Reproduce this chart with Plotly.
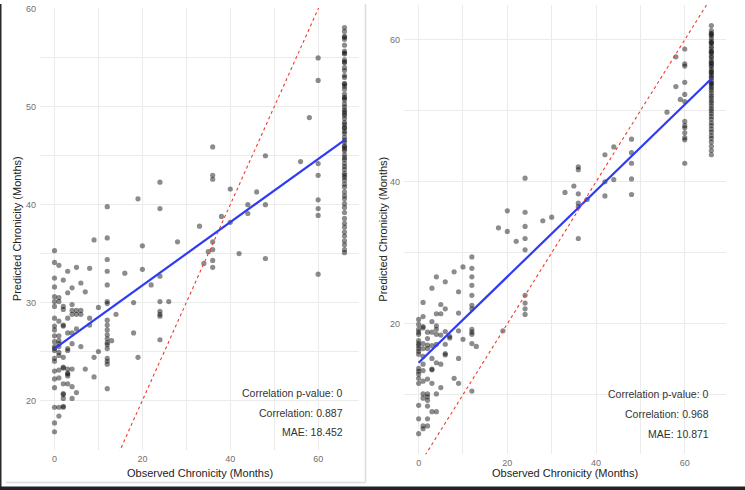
import plotly.graph_objects as go

# ---------------- data ----------------
# Left panel: observed vs predicted chronicity (months)
left_cols = {
    0: [35.3, 34.1, 32.5, 31.6, 30.6, 30.1, 29.6, 28.4, 27.6, 27.2, 26.6, 26.0, 25.5, 25.3, 25.1, 24.3, 24.0, 23.0, 22.2, 21.3, 19.3, 17.7, 16.8],
    1: [33.8, 30.5, 30.1, 28.1, 26.6, 26.1, 25.8, 25.5, 24.9, 24.6, 23.1, 22.3, 19.3, 18.4],
    2: [32.3, 29.6, 29.3, 27.7, 27.6, 24.4, 23.4, 23.3, 21.7, 20.7, 20.6, 20.2, 19.4, 19.3],
    3: [33.2, 31.0, 28.4, 26.9, 25.3, 25.1, 23.2, 22.8, 22.7, 22.5, 21.7],
    4: [31.5, 29.8, 29.2, 28.8, 26.9, 25.8, 23.2, 21.4, 20.2],
    5: [33.6, 29.2, 28.8, 27.3, 20.8],
    6: [32.0, 29.2, 28.8, 25.5],
    7: [31.1, 23.2],
    8: [33.5, 28.4, 27.7],
    9: [36.4, 24.4, 22.4],
    10: [29.5, 25.0],
    12: [39.8, 36.6, 34.4, 33.2, 31.8, 30.1, 29.9, 28.2, 27.7, 27.2, 26.7, 26.3, 25.9, 25.7, 25.3, 24.3, 24.0, 23.7, 21.2],
    13: [26.1],
    14: [28.8],
    16: [33.0],
    18: [30.0, 26.9],
    19: [40.6, 24.4],
    20: [35.8, 33.4],
    22: [31.8],
    24: [42.3, 39.6, 32.7, 30.1, 29.1, 28.8, 28.6, 26.2],
    26: [30.1],
    28: [36.2],
    33: [37.8],
    34: [34.0],
    35: [35.2],
    36: [45.9, 43.0, 42.6, 36.2, 35.4, 34.3, 33.6],
    38: [38.8],
    40: [41.6, 38.2],
    42: [35.0],
    44: [40.0, 39.1],
    46: [41.3],
    48: [45.0, 40.0, 34.5],
    56: [44.4],
    58: [48.9],
    60: [55.0, 52.7, 44.2, 43.0, 40.5, 39.6, 38.9, 32.9],
    66: [58.1, 57.7, 57.2, 57.1, 56.9, 56.3, 55.7, 55.5, 55.4, 54.8, 54.6, 54.5, 54.0, 53.7, 53.2, 53.0, 52.4, 52.3,
         52.1, 51.8, 51.3, 51.0, 50.9, 50.7, 50.3, 50.0, 49.7, 49.5, 49.3, 49.1, 48.8, 48.4, 48.2, 47.9, 47.8, 47.5,
         47.3, 46.9, 46.6, 46.4, 46.0, 45.9, 45.7, 45.5, 45.1, 44.8, 44.6, 44.2, 43.9, 43.6, 43.2, 43.0, 42.8, 42.5,
         42.1, 41.8, 41.3, 40.9, 40.6, 40.1, 39.7, 39.2, 38.6, 38.1, 37.7, 37.2, 36.8, 36.3, 35.9, 35.4, 35.1],
}
# Right panel
right_cols = {
    0: [20.6, 19.9, 19.2, 18.8, 18.5, 17.6, 17.2, 16.9, 16.5, 16.1, 15.7, 13.7, 13.3, 12.9, 12.3, 11.6, 8.5, 6.6, 4.5],
    1: [23.0, 21.0, 19.6, 19.4, 17.2, 16.5, 15.4, 14.3, 13.4, 11.9, 10.1, 9.5, 5.6, 5.2],
    2: [18.8, 17.9, 17.0, 16.5, 12.2, 10.1, 9.7, 9.2, 8.4, 6.6, 5.6],
    3: [25.0, 20.3, 18.8, 16.9, 15.1, 13.6, 13.5, 11.6, 7.6],
    4: [26.6, 21.4, 19.7, 19.2, 18.5, 17.1, 14.5, 10.1, 7.6],
    5: [22.7, 21.4, 18.4, 14.3, 11.0],
    6: [25.9, 22.1, 18.9, 17.1, 15.8, 15.6],
    7: [18.2, 18.0],
    8: [27.3, 12.3],
    9: [24.5, 21.5, 19.0, 15.1, 11.6],
    10: [28.0, 17.8],
    12: [29.4, 27.8, 26.6, 25.4, 24.0, 22.6, 22.1, 19.2, 18.8, 18.5, 17.2, 10.5],
    13: [16.8],
    18: [33.5],
    19: [19.0],
    20: [35.9, 33.0],
    22: [31.6],
    24: [40.5, 35.7, 33.7, 32.0, 30.4, 24.0, 22.9, 22.1, 21.3],
    28: [34.5],
    30: [35.0],
    33: [38.5],
    35: [39.4],
    36: [42.1, 41.7, 38.3, 37.0, 36.5, 32.0],
    38: [37.5],
    42: [43.8, 40.0, 38.0],
    44: [44.9, 40.3],
    48: [46.0, 44.1, 42.6, 40.4, 38.2],
    56: [49.8],
    58: [57.6, 53.4],
    59: [51.6],
    60: [58.7, 56.6, 56.3, 54.0, 52.3, 51.3, 48.5, 47.9, 47.6, 46.9, 46.2, 45.9, 42.6],
    66: [62.0, 61.3, 60.9, 60.8, 60.6, 60.2, 59.8, 59.6, 59.5, 59.1, 58.8, 58.4, 58.3, 58.1, 57.7, 57.5, 57.1, 56.8,
         56.7, 56.4, 56.2, 55.8, 55.5, 55.4, 55.1, 54.8, 54.6, 54.2, 53.9, 53.8, 53.5, 53.2, 52.9, 52.5, 52.1, 51.8,
         51.4, 51.1, 50.7, 50.3, 50.0, 49.6, 49.2, 48.8, 48.3, 47.9, 47.4, 47.0, 46.5, 46.1, 45.6, 45.0, 44.4, 43.8],
}

left_fit_x = [0, 66]
left_fit_y = [25.3, 46.6]
right_fit_x = [0, 66]
right_fit_y = [14.5, 54.5]
identity = [-10, 80]

left_stats = ["Correlation p-value: 0", "Correlation: 0.887", "MAE: 18.452"]
right_stats = ["Correlation p-value: 0", "Correlation: 0.968", "MAE: 10.871"]
x_title = "Observed Chronicity (Months)"
y_title = "Predicted Chronicity (Months)"


def flatten(cols):
    xs, ys = [], []
    for k, vals in cols.items():
        for v in vals:
            xs.append(k)
            ys.append(v)
    return xs, ys


lx, ly = flatten(left_cols)
rx, ry = flatten(right_cols)

W, H = 745, 490
FONT = "Liberation Sans, Arial, Helvetica, sans-serif"
GRID = "#ebebeb"
TICK = "#707070"

fig = go.Figure()
marker = dict(size=5.2, color="rgba(0,0,0,0.45)", line=dict(width=0))

for xs, ys, fx, fy, xa, ya in [(lx, ly, left_fit_x, left_fit_y, "x", "y"),
                               (rx, ry, right_fit_x, right_fit_y, "x2", "y2")]:
    fig.add_trace(go.Scatter(x=xs, y=ys, mode="markers", marker=marker,
                             xaxis=xa, yaxis=ya, showlegend=False, hoverinfo="skip"))
    fig.add_trace(go.Scatter(x=fx, y=fy, mode="lines", line=dict(color="#2D3BF5", width=2.2),
                             xaxis=xa, yaxis=ya, showlegend=False, hoverinfo="skip"))
    fig.add_trace(go.Scatter(x=identity, y=identity, mode="lines",
                             line=dict(color="#F23A2E", width=1.1, dash="3px,3px"),
                             xaxis=xa, yaxis=ya, showlegend=False, hoverinfo="skip"))


def px_x(p):
    return p / W


def px_y(p):
    return 1 - p / H


def xaxis(dom):
    return dict(domain=dom, range=[-3.3, 69.3], dtick=20, tick0=0, showgrid=True, gridcolor=GRID,
                gridwidth=1, zeroline=False, showline=False, ticks="",
                tickfont=dict(size=9, color=TICK, family=FONT), ticklabelstandoff=2,
                ticklabeloverflow="allow",
                minor=dict(dtick=10, tick0=0, showgrid=True, gridcolor=GRID, gridwidth=0.6))


def yaxis(dom, rng, dt, mdt):
    return dict(domain=dom, range=rng, dtick=dt, tick0=0, showgrid=True, gridcolor=GRID,
                gridwidth=1, zeroline=False, showline=False, ticks="",
                tickfont=dict(size=9, color=TICK, family=FONT), ticklabelstandoff=3,
                ticklabeloverflow="allow",
                minor=dict(dtick=mdt, tick0=0, showgrid=True, gridcolor=GRID, gridwidth=0.6))


fig.update_layout(
    width=W, height=H, margin=dict(l=0, r=0, t=0, b=0),
    paper_bgcolor="white", plot_bgcolor="white",
    font=dict(family=FONT),
    xaxis=dict(xaxis([px_x(40), px_x(359)]), anchor="y"),
    yaxis=dict(yaxis([px_y(450), px_y(4)], [14.9, 60.1], 10, 5), anchor="x"),
    xaxis2=dict(xaxis([px_x(404), px_x(726)]), anchor="y2"),
    yaxis2=dict(yaxis([px_y(454), px_y(1)], [1.6, 64.9], 20, 10), anchor="x2"),
)

ann = []
for cx in (200, 565):
    ann.append(dict(text=x_title, x=px_x(cx), y=px_y(473), xref="paper", yref="paper",
                    showarrow=False, xanchor="center", yanchor="middle",
                    font=dict(size=11, color="#222", family=FONT)))
for cx, cy in ((17, 227), (383, 227.5)):
    ann.append(dict(text=y_title, x=px_x(cx), y=px_y(cy), xref="paper", yref="paper",
                    showarrow=False, xanchor="center", yanchor="middle", textangle=-90,
                    font=dict(size=11, color="#222", family=FONT)))
for stats, rx_px, ys in ((left_stats, 345, (392, 412, 432)), (right_stats, 711, (393, 413, 434))):
    for s, yy in zip(stats, ys):
        ann.append(dict(text=s, x=px_x(rx_px), y=px_y(yy), xref="paper", yref="paper",
                        showarrow=False, xanchor="right", yanchor="middle",
                        font=dict(size=10.5, color="#333", family=FONT)))
fig.update_layout(annotations=ann)

# frame elements of the composite screenshot
shapes = [
    dict(type="line", xref="paper", yref="paper", x0=px_x(365.5), x1=px_x(365.5), y0=px_y(0), y1=px_y(482),
         line=dict(color="#dcdcdc", width=1.5)),
    dict(type="line", xref="paper", yref="paper", x0=px_x(6), x1=px_x(365.5), y0=px_y(482.5), y1=px_y(482.5),
         line=dict(color="#dcdcdc", width=1.5)),
    dict(type="rect", xref="paper", yref="paper", x0=0, x1=px_x(1.5), y0=0, y1=1,
         line=dict(width=0), fillcolor="#2a2a2a"),
    dict(type="rect", xref="paper", yref="paper", x0=0, x1=1, y0=0, y1=px_y(486.5),
         line=dict(width=0), fillcolor="#222222"),
]
fig.update_layout(shapes=shapes)

fig.write_html("out.html")
